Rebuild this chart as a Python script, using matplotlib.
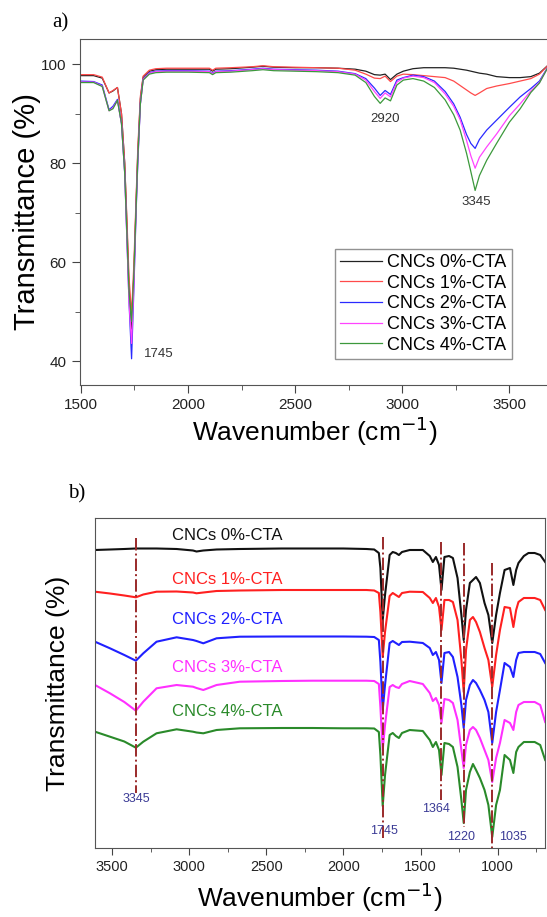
import matplotlib
matplotlib.use("Agg")
import matplotlib.pyplot as plt
from matplotlib.ticker import MultipleLocator

plt.rcParams["font.family"] = ["Liberation Sans", "DejaVu Sans"]

LABELS = ["CNCs 0%-CTA", "CNCs 1%-CTA", "CNCs 2%-CTA", "CNCs 3%-CTA", "CNCs 4%-CTA"]

# ---- panel a) : transmittance (%) vs wavenumber ----
wn_a = [1494, 1560, 1600, 1632, 1650, 1671, 1690,
        1705, 1715, 1725, 1737, 1748, 1758, 1766, 1778, 1791,
        1820, 1850, 1900, 2000, 2100, 2115, 2130, 2200,
        2300, 2350, 2400, 2500, 2600, 2700, 2780, 2830,
        2870, 2897, 2920, 2945, 2975, 3005, 3050,
        3100, 3150, 3200, 3240, 3270, 3300, 3320, 3340,
        3360, 3394, 3440, 3500, 3550, 3600, 3640, 3690]

t_0 = [97.7, 97.7, 97.2, 94.2, 94.6, 95.3, 90.0,
       80.0, 68.0, 55.0, 46.5, 58.0, 72.0, 82.0, 93.0, 97.4,
       98.6, 98.9, 99.0, 99.0, 99.0, 98.6, 99.0, 99.1,
       99.4, 99.6, 99.4, 99.3, 99.3, 99.2, 99.0, 98.6,
       97.9, 97.8, 98.0, 96.9, 98.0, 98.6, 99.1,
       99.3, 99.3, 99.3, 99.2, 99.0, 98.8, 98.6, 98.4,
       98.2, 98.0, 97.5, 97.3, 97.3, 97.5, 98.2, 100.2]
t_1 = [97.9, 97.9, 97.4, 94.2, 94.7, 95.3, 90.0,
       80.0, 69.0, 57.0, 49.5, 60.0, 73.0, 83.0, 93.5, 97.6,
       98.8, 99.1, 99.2, 99.2, 99.2, 98.8, 99.2, 99.3,
       99.5, 99.7, 99.5, 99.4, 99.3, 99.2, 98.8, 98.0,
       97.2, 97.1, 97.6, 96.5, 97.6, 98.0, 97.9,
       97.7, 97.5, 97.3, 96.6, 95.7, 94.8, 94.2, 93.7,
       94.2, 95.1, 95.6, 96.1, 96.6, 97.1, 98.0, 100.2]
t_2 = [96.6, 96.5, 95.8, 90.8, 91.5, 92.9, 88.0,
       78.0, 65.0, 52.0, 40.5, 55.0, 70.0, 80.0, 92.0, 97.0,
       98.3, 98.6, 98.7, 98.7, 98.6, 98.2, 98.6, 98.7,
       99.0, 99.2, 99.0, 98.9, 98.8, 98.6, 98.1, 97.1,
       95.2, 93.7, 94.7, 93.9, 96.8, 97.3, 97.8,
       97.5, 96.6, 94.5, 92.0, 89.3, 85.8, 84.0, 83.0,
       84.8, 86.7, 88.7, 91.3, 93.4, 95.1, 96.6, 100.2]
t_3 = [96.4, 96.4, 95.6, 90.6, 91.2, 92.7, 88.0,
       78.0, 65.0, 52.0, 43.6, 56.0, 70.5, 80.5, 92.0, 96.9,
       98.2, 98.5, 98.6, 98.6, 98.5, 98.1, 98.5, 98.6,
       98.9, 99.1, 98.9, 98.8, 98.7, 98.5, 98.0, 96.8,
       94.5, 93.1, 94.2, 93.4, 96.4, 97.2, 97.6,
       97.3, 96.3, 94.0, 91.5, 88.8, 84.6, 81.5, 79.0,
       81.2, 83.3, 85.9, 89.6, 92.0, 94.6, 96.3, 100.2]
t_4 = [96.3, 96.3, 95.5, 90.6, 91.0, 92.7, 88.0,
       78.0, 66.0, 54.0, 48.0, 58.0, 71.0, 81.0, 92.0, 96.8,
       98.0, 98.3, 98.4, 98.4, 98.3, 97.9, 98.3, 98.4,
       98.7, 98.9, 98.7, 98.6, 98.5, 98.3, 97.8, 96.3,
       93.5, 92.1, 93.2, 92.6, 95.8, 96.8, 97.1,
       96.6, 95.3, 92.8, 89.8, 86.7, 82.0, 78.3, 74.5,
       77.5, 80.6, 84.0, 88.3, 91.0, 94.3, 96.2, 100.2]

peaks_a = [1745, 2920, 3345]
peaks_a_x = [1862, 2920, 3345]
peaks_a_y = [41.4, 89.0, 72.2]

# ---- panel b) : stacked spectra (arbitrary units, larger = lower on plot) ----
wn_b = [3610, 3513, 3420, 3345, 3297, 3211, 3081, 2975, 2952, 2908,
        2822, 2671, 2400, 2200, 2000, 1850, 1800,
        1770, 1760, 1745, 1730, 1700, 1680, 1660, 1640, 1620, 1570,
        1485, 1440, 1420, 1400, 1380, 1364, 1345, 1315, 1290, 1260,
        1235, 1220, 1205, 1180, 1160, 1140, 1115, 1085, 1060, 1035,
        1010, 985, 955, 920, 898, 880, 865, 830, 800, 760,
        724, 692]

b_0 = [550, 549.5, 549, 548.5, 548.5, 548.5, 549, 550.5, 551.5, 550.5,
       549.5, 549, 548.5, 548.5, 548.5, 549, 549.5,
       553, 568, 620, 595, 555, 552, 553, 555, 552, 550,
       550, 556, 562, 557, 565, 590, 557, 556, 558, 578,
       615, 640, 610, 583, 580, 577, 583, 603, 615, 643,
       615, 593, 570, 568, 585, 570, 563, 556, 553, 553,
       555, 562]
b_1 = [591.7, 593.5, 595.5, 597.3, 594.5, 591.7, 591.5, 592.5, 593.3, 592.5,
       591, 590.5, 590, 590, 590, 590, 590.5,
       593, 612, 657, 632, 596, 593, 595, 597, 593, 591.7,
       592, 598, 603, 598, 607, 630, 600, 600, 602, 620,
       660, 692, 650, 620, 617, 622, 632, 648, 660, 687,
       655, 630, 607, 608, 627, 610, 602, 598, 598, 598,
       600, 610]
b_2 = [641.7, 648.3, 655, 660.7, 653.3, 641.7, 637.3, 640, 641, 643.3,
       638.3, 636.7, 636.5, 636.5, 636.5, 636.7, 637,
       640, 662, 710, 685, 643, 641, 643, 645, 642, 641.7,
       643, 648, 655, 652, 660, 683, 653, 652, 657, 677,
       705, 728, 700, 685, 680, 683, 690, 700, 712, 743,
       712, 690, 663, 667, 677, 660, 653, 652, 652, 652,
       654, 663]
b_3 = [685, 693.3, 702, 710.7, 701.7, 688.3, 685, 686.7, 688, 690,
       685, 681.7, 681, 680.7, 680.7, 680.7, 681,
       684, 707, 750, 725, 687, 685, 687, 688, 684, 681,
       684, 693, 701, 698, 705, 723, 699, 700, 703, 720,
       750, 768, 745, 730, 727, 730, 738, 750, 760, 782,
       758, 743, 720, 723, 730, 712, 705, 702, 702, 702,
       705, 722]
b_4 = [731.7, 736.7, 741.5, 747.7, 741.7, 733.3, 729.3, 731.7, 732.5, 733.3,
       730, 728.3, 728, 728, 728.3, 728.3, 728.5,
       732, 755, 806, 775, 735, 733, 736, 738, 733, 730,
       731, 740, 747, 742, 750, 775, 743, 744, 747, 767,
       800, 823, 790, 772, 764, 770, 778, 790, 805, 837,
       805, 790, 755, 760, 773, 752, 747, 742, 742, 742,
       745, 760]

peaks_b = [3345, 1745, 1364, 1220, 1035]
peak_line_top = [538, 537, 542, 543, 563]
peak_line_bot = [793, 840, 800, 827, 848]
peak_lab_x = [3345, 1735, 1397, 1235, 900]
peak_lab_y = [799, 831, 809, 837, 837]
name_y = [535, 579, 620, 667, 712]

colors_a = ["#222222", "#ff4a4a", "#2a2aff", "#ff44ff", "#3c993c"]
colors_b = ["#111111", "#ff2020", "#2020ff", "#ff30ff", "#2a8a2a"]

fig = plt.figure(figsize=(5.47, 9.17), dpi=100)
W, H = 547.0, 917.0

# ---------- a) ----------
ax1 = fig.add_axes([79.5 / W, 1 - 385 / H, 470 / W, 346 / H])
for t, c, lab in zip([t_0, t_1, t_2, t_3, t_4], colors_a, LABELS):
    ax1.plot(wn_a, t, color=c, lw=0.9, label=lab)
ax1.set_xlim(1494, 3687)
ax1.set_ylim(35.2, 105.1)
ax1.xaxis.set_major_locator(MultipleLocator(500))
ax1.xaxis.set_minor_locator(MultipleLocator(250))
ax1.yaxis.set_major_locator(MultipleLocator(20))
ax1.yaxis.set_minor_locator(MultipleLocator(10))
ax1.tick_params(which="both", direction="out", colors="#444444", labelcolor="#222222")
ax1.tick_params(which="major", length=6, labelsize=11)
ax1.tick_params(which="minor", length=3.5)
for s in ax1.spines.values():
    s.set_color("#555555")
ax1.set_xlabel("Wavenumber (cm$^{-1}$)", fontsize=19, labelpad=2)
ax1.set_ylabel("Transmittance (%)", fontsize=21, labelpad=0)
for p, x, y in zip(peaks_a, peaks_a_x, peaks_a_y):
    ax1.text(x, y, str(p), fontsize=9.5, color="#333333", ha="center", va="center")
leg = ax1.legend(loc="lower right", bbox_to_anchor=(0.92, 0.075), fontsize=13,
                 frameon=True, fancybox=False, edgecolor="#777777",
                 handlelength=2.3, handletextpad=0.3, labelspacing=0.2,
                 borderpad=0.3, borderaxespad=0)
leg.get_frame().set_linewidth(1.0)
fig.text(52 / W, 1 - 23 / H, "a)", fontsize=15, family="Liberation Serif",
         ha="left", va="center")

# ---------- b) ----------
ax2 = fig.add_axes([95 / W, 1 - 848 / H, 450 / W, 330 / H])
for b, c in zip([b_0, b_1, b_2, b_3, b_4], colors_b):
    ax2.plot(wn_b, b, color=c, lw=1.5)
for p, y0, y1 in zip(peaks_b, peak_line_top, peak_line_bot):
    ax2.plot([p, p], [y0, y1], color="#9a2a2a", lw=1.4, ls="-.")
for p, x, y in zip(peaks_b, peak_lab_x, peak_lab_y):
    ax2.text(x, y, str(p), fontsize=9, color="#3a3a95", ha="center", va="center")
for lab, c, y in zip(LABELS, colors_b, name_y):
    ax2.text(2750, y, lab, fontsize=12, color=c, ha="center", va="center")
ax2.set_xlim(3610, 693)
ax2.set_ylim(848, 518)
ax2.xaxis.set_major_locator(MultipleLocator(500))
ax2.xaxis.set_minor_locator(MultipleLocator(250))
ax2.set_yticks([])
ax2.tick_params(which="both", direction="out", colors="#444444", labelcolor="#222222")
ax2.tick_params(which="major", length=5, labelsize=10.5)
ax2.tick_params(which="minor", length=3)
for s in ax2.spines.values():
    s.set_color("#555555")
ax2.set_xlabel("Wavenumber (cm$^{-1}$)", fontsize=19, labelpad=5)
ax2.set_ylabel("Transmittance (%)", fontsize=19, labelpad=18)
fig.text(68 / W, 1 - 494 / H, "b)", fontsize=15, family="Liberation Serif",
         ha="left", va="center")

fig.savefig("out.png", dpi=100)
